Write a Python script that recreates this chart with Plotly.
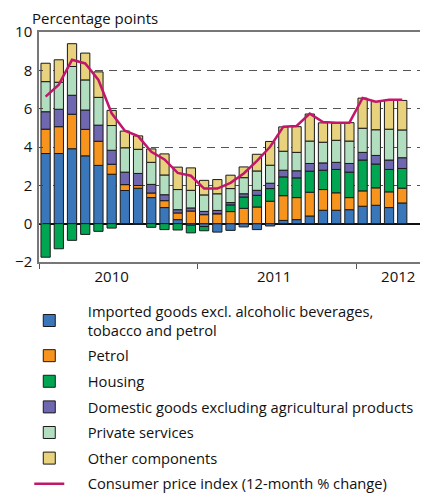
import plotly.graph_objects as go

months = [f"{y}-{m:02d}" for y in (2010, 2011) for m in range(1, 13)] + [f"2012-{m:02d}" for m in range(1, 5)]

imported = [3.66, 3.66, 3.91, 3.54, 3.04, 2.58, 1.73, 1.85, 1.36, 0.84, 0.21, -0.08, -0.15, -0.44,
            -0.35, -0.17, -0.31, -0.12, 0.17, 0.21, 0.40, 0.70, 0.70, 0.73, 0.91, 0.96, 0.84, 1.08]
petrol = [1.27, 1.40, 1.80, 1.38, 1.26, 0.52, 0.31, 0.14, 0.24, 0.36, 0.35, 0.66, 0.47, 0.52,
          0.63, 0.80, 0.87, 1.17, 1.29, 1.15, 1.24, 1.08, 0.91, 0.63, 0.80, 0.91, 0.82, 0.77]
housing = [-1.75, -1.31, -0.87, -0.56, -0.40, -0.23, 0.00, -0.03, -0.19, -0.31, -0.33, -0.40, -0.22, 0.00,
           0.35, 0.59, 0.61, 0.66, 0.98, 1.03, 1.10, 1.01, 1.22, 1.33, 1.61, 1.24, 1.17, 1.03]
domestic = [0.91, 0.91, 0.99, 1.01, 0.84, 0.73, 0.65, 0.63, 0.45, 0.31, 0.17, 0.16, 0.17, 0.17,
            0.12, 0.17, 0.26, 0.28, 0.35, 0.37, 0.40, 0.38, 0.37, 0.45, 0.40, 0.45, 0.49, 0.56]
services = [1.57, 1.41, 1.50, 1.57, 1.45, 1.29, 1.27, 1.26, 1.15, 1.03, 1.05, 0.92, 0.86, 0.87,
            0.73, 0.84, 1.01, 0.94, 0.99, 0.96, 1.17, 1.08, 1.15, 1.17, 1.26, 1.34, 1.61, 1.45]
other = [0.96, 1.17, 1.19, 1.40, 1.33, 0.79, 0.87, 0.70, 0.70, 1.10, 1.17, 1.17, 0.76, 0.74,
         0.70, 0.56, 0.87, 1.24, 1.27, 1.34, 1.41, 1.01, 0.89, 0.96, 1.57, 1.47, 1.50, 1.54]
cpi = [6.63, 7.25, 8.55, 8.36, 7.50, 5.76, 4.85, 4.57, 3.75, 3.35, 2.65, 2.50, 1.83, 1.83,
       2.13, 2.62, 3.28, 4.01, 5.06, 5.10, 5.74, 5.30, 5.27, 5.27, 6.56, 6.36, 6.46, 6.46]

series = [
    ("Imported goods excl. alcoholic beverages,<br>\u2003\u00a0tobacco and petrol", imported, "#3a76ba"),
    ("Petrol", petrol, "#f7941e"),
    ("Housing", housing, "#00a651"),
    ("Domestic goods excluding agricultural products", domestic, "#6f67b0"),
    ("Private services", services, "#b2dec0"),
    ("Other components", other, "#e8d27e"),
]
year_labels = ["2010", "2011", "2012"]
year_label_pos = [5, 17.3, 26.7]
year_bounds = [-0.5, 11.5, 23.5]

x = list(range(len(months)))
FONT = "Open Sans"
PAD = "\u2003\u00a0"

fig = go.Figure()
for i, (name, vals, col) in enumerate(series):
    fig.add_trace(go.Bar(
        x=x, y=vals, name=PAD + name, marker=dict(color=col, line=dict(color="#1a1a1a", width=1)),
        legendgroup=f"g{i}", customdata=months,
    ))
fig.add_trace(go.Scatter(
    x=x, y=cpi, name=PAD + "Consumer price index (12-month % change)", mode="lines",
    line=dict(color="#c2166b", width=2.5), legendgroup="g6",
))

# page body has an 8px default margin, so the figure is 8px smaller than the window on each axis
fig.update_layout(
    width=420, height=489,
    margin=dict(l=31, r=0, t=24, b=235, autoexpand=False),
    barmode="relative", bargap=0.3,
    plot_bgcolor="white", paper_bgcolor="white",
    font=dict(family=FONT, size=14, color="#111"),
    showlegend=True,
    legend=dict(
        x=-0.025, y=-0.143, xanchor="left", yanchor="top",
        traceorder="grouped", tracegroupgap=3.5, itemwidth=30,
        font=dict(family=FONT, size=14.7, color="#111"),
        bgcolor="rgba(0,0,0,0)",
    ),
    annotations=[dict(
        text="Percentage points", xref="paper", yref="paper", x=-0.024, y=1.062,
        xanchor="left", yanchor="middle", showarrow=False,
        font=dict(family=FONT, size=15, color="#111"),
    )],
)
fig.update_xaxes(
    range=[-0.5, 28.95], tickvals=year_label_pos, ticktext=year_labels, ticks="",
    tickfont=dict(size=15), showgrid=False, zeroline=False, automargin=False,
    showline=True, mirror=True, linecolor="#777", linewidth=1.5,
    minor=dict(tickvals=year_bounds, ticks="outside", ticklen=5, tickcolor="#555", tickwidth=1.2, showgrid=False),
)
fig.update_yaxes(
    range=[-2, 10], tickvals=[-2, 0, 2, 4, 6, 8, 10], ticks="inside", ticklen=4, tickcolor="#444",
    tickfont=dict(size=15), ticklabelstandoff=2,
    showgrid=True, gridcolor="#555", gridwidth=1.2, griddash="8px,6px",
    zeroline=True, zerolinecolor="#111", zerolinewidth=1.5, automargin=False,
    showline=True, linecolor="#777", linewidth=1.5,
)

fig.write_html("out.html")
